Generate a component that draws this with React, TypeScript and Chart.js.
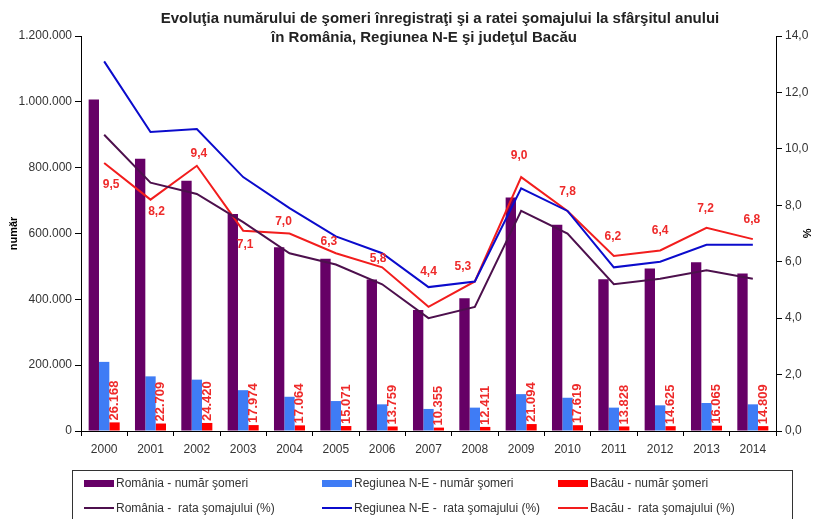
import React, { useEffect, useRef } from 'react';
import { Chart, registerables } from 'chart.js';

Chart.register(...registerables);

const years = ['2000', '2001', '2002', '2003', '2004', '2005', '2006', '2007', '2008', '2009', '2010', '2011', '2012', '2013', '2014'];
const romaniaCount = [1007131, 826932, 760610, 658891, 557891, 522973, 460495, 367838, 403441, 709383, 626960, 461013, 493775, 512333, 478338];
const neCount = [210000, 166000, 156000, 124000, 104000, 91000, 81000, 67000, 71000, 112000, 101000, 71000, 78000, 85000, 81000];
const bacauCount = [26168, 22709, 24420, 17974, 17064, 15071, 13759, 10355, 12411, 21094, 17619, 13828, 14625, 16065, 14809];
const romaniaRate = [10.5, 8.8, 8.4, 7.4, 6.3, 5.9, 5.2, 4.0, 4.4, 7.8, 7.0, 5.2, 5.4, 5.7, 5.4];
const neRate = [13.1, 10.6, 10.7, 9.0, 7.9, 6.9, 6.3, 5.1, 5.3, 8.6, 7.8, 5.8, 6.0, 6.6, 6.6];
const bacauRate = [9.5, 8.2, 9.4, 7.1, 7.0, 6.3, 5.8, 4.4, 5.3, 9.0, 7.8, 6.2, 6.4, 7.2, 6.8];
const leftTicks = [0, 200000, 400000, 600000, 800000, 1000000, 1200000];
const rightTicks = [0, 2, 4, 6, 8, 10, 12, 14];

// layout-only: placement of Bacău rate labels relative to their points
const rateLabelOffsets: [number, number][] = [
  [7, 22], [6, 12], [2, -12], [2, 14], [-6, -12], [-7, -12], [-4, -9], [0, -35],
  [-12, -15], [-2, -21], [0, -19], [-1, -19], [0, -20], [-1, -19], [-1, -19],
];

const titleLines = [
  'Evoluţia numărului de şomeri înregistraţi şi a ratei şomajului la sfârşitul anului',
  'în România, Regiunea N-E şi judeţul Bacău',
];

const COLORS = {
  roBar: '#660066',
  neBar: '#3f7cf5',
  bcBar: '#ff0000',
  roLine: '#4d104d',
  neLine: '#0b0bcc',
  bcLine: '#f21d1d',
  label: '#ee2a2a',
};

const fmtThousands = (v: number) => String(Math.round(v)).replace(/\B(?=(\d{3})+(?!\d))/g, '.');
const fmtRate = (v: number) => v.toFixed(1).replace('.', ',');

const legendItems = [
  { label: 'România - număr şomeri', color: COLORS.roBar, kind: 'bar' },
  { label: 'Regiunea N-E - număr şomeri', color: COLORS.neBar, kind: 'bar' },
  { label: 'Bacău - număr şomeri', color: COLORS.bcBar, kind: 'bar' },
  { label: 'România -  rata şomajului (%)', color: COLORS.roLine, kind: 'line' },
  { label: 'Regiunea N-E -  rata şomajului (%)', color: COLORS.neLine, kind: 'line' },
  { label: 'Bacău -  rata şomajului (%)', color: COLORS.bcLine, kind: 'line' },
];

const labelPlugin = {
  id: 'customLabels',
  afterDatasetsDraw(chart: any) {
    const ctx = chart.ctx;
    ctx.save();
    const barMeta = chart.getDatasetMeta(2);
    ctx.fillStyle = COLORS.label;
    ctx.font = 'bold 13px Arial, "Liberation Sans", sans-serif';
    barMeta.data.forEach((el: any, i: number) => {
      ctx.save();
      ctx.translate(el.x, el.y - 2);
      ctx.rotate(-Math.PI / 2);
      ctx.textAlign = 'left';
      ctx.textBaseline = 'middle';
      ctx.fillText(fmtThousands(bacauCount[i]), 0, 0);
      ctx.restore();
    });
    const lineMeta = chart.getDatasetMeta(5);
    ctx.font = 'bold 12px Arial, "Liberation Sans", sans-serif';
    ctx.textAlign = 'center';
    ctx.textBaseline = 'middle';
    lineMeta.data.forEach((el: any, i: number) => {
      const [dx, dy] = rateLabelOffsets[i];
      ctx.fillText(fmtRate(bacauRate[i]), el.x + dx, el.y + dy);
    });
    ctx.restore();
  },
  afterDraw(chart: any) {
    const ctx = chart.ctx;
    ctx.save();
    ctx.fillStyle = '#222';
    ctx.font = 'bold 15px Arial, "Liberation Sans", sans-serif';
    ctx.textAlign = 'center';
    ctx.textBaseline = 'alphabetic';
    ctx.fillText(titleLines[0], 440, 23);
    ctx.fillText(titleLines[1], 424, 42);
    ctx.restore();
  },
};

export default function App() {
  const ref = useRef<HTMLCanvasElement>(null);

  useEffect(() => {
    if (!ref.current) return;
    const tickFont = { family: 'Arial, "Liberation Sans", sans-serif', size: 12 };
    const chart = new Chart(ref.current, {
      type: 'bar',
      data: {
        labels: years,
        datasets: [
          { type: 'bar', label: 'România - număr şomeri', data: romaniaCount, backgroundColor: COLORS.roBar, yAxisID: 'y', order: 2 },
          { type: 'bar', label: 'Regiunea N-E - număr şomeri', data: neCount, backgroundColor: COLORS.neBar, yAxisID: 'y', order: 2 },
          { type: 'bar', label: 'Bacău - număr şomeri', data: bacauCount, backgroundColor: COLORS.bcBar, yAxisID: 'y', order: 2 },
          { type: 'line', label: 'România - rata şomajului (%)', data: romaniaRate, borderColor: COLORS.roLine, borderWidth: 2, pointRadius: 0, yAxisID: 'y1', order: 1 },
          { type: 'line', label: 'Regiunea N-E - rata şomajului (%)', data: neRate, borderColor: COLORS.neLine, borderWidth: 2, pointRadius: 0, yAxisID: 'y1', order: 1 },
          { type: 'line', label: 'Bacău - rata şomajului (%)', data: bacauRate, borderColor: COLORS.bcLine, borderWidth: 2, pointRadius: 0, yAxisID: 'y1', order: 1 },
        ] as any,
      },
      options: {
        responsive: false,
        animation: false,
        layout: { padding: { top: 36, left: 0, right: 0, bottom: 0 } },
        datasets: { bar: { categoryPercentage: 0.67, barPercentage: 1.0 } } as any,
        plugins: {
          legend: { display: false },
          title: { display: false },
          tooltip: { enabled: false },
        },
        scales: {
          x: {
            offset: true,
            grid: { offset: true, drawOnChartArea: false, tickLength: 5, color: '#000' },
            border: { color: '#000', width: 1 },
            ticks: { color: '#333', font: tickFont, padding: 6, maxRotation: 0 },
            afterFit: (s: any) => { s.height = 519 - 431; },
          },
          y: {
            position: 'left',
            min: 0,
            max: 1200000,
            afterBuildTicks: (s: any) => { s.ticks = leftTicks.map((v) => ({ value: v })); },
            grid: { drawOnChartArea: false, tickLength: 6, color: '#000' },
            border: { color: '#000', width: 1 },
            ticks: { color: '#333', font: tickFont, padding: 3, callback: (v: any) => fmtThousands(Number(v)) },
            title: { display: true, text: 'număr', color: '#000', font: { family: 'Arial, "Liberation Sans", sans-serif', size: 11, weight: 'bold' }, padding: { top: 7, bottom: 0 } },
            afterFit: (s: any) => { s.width = 81; },
          },
          y1: {
            position: 'right',
            min: 0,
            max: 14,
            afterBuildTicks: (s: any) => { s.ticks = rightTicks.map((v) => ({ value: v })); },
            grid: { drawOnChartArea: false, tickLength: 6, color: '#000' },
            border: { color: '#000', width: 1 },
            ticks: { color: '#333', font: tickFont, padding: 3, callback: (v: any) => fmtRate(Number(v)) },
            title: { display: true, text: '%', color: '#000', font: { family: 'Arial, "Liberation Sans", sans-serif', size: 11, weight: 'bold' }, padding: { top: 0, bottom: 0 } },
            afterFit: (s: any) => { s.width = 37; },
          },
        } as any,
      },
      plugins: [labelPlugin],
    });
    return () => chart.destroy();
  }, []);

  const colX = [84, 322, 558];
  const rowY = [483, 508];

  return (
    <div style={{ position: 'absolute', left: 0, top: 0, width: 813, height: 519, overflow: 'hidden', background: '#fff' }}>
      <canvas ref={ref} width={813} height={519} style={{ position: 'absolute', left: 0, top: 0, width: 813, height: 519 }} />
      <div style={{ position: 'absolute', left: 72, top: 470, width: 721, height: 49, borderTop: '1px solid #333', borderLeft: '1px solid #333', borderRight: '1px solid #333', boxSizing: 'border-box' }} />
      {legendItems.map((it, i) => {
        const x = colX[i % 3];
        const y = rowY[Math.floor(i / 3)];
        return (
          <div key={i} style={{ position: 'absolute', left: x, top: y - 8, height: 16, display: 'flex', alignItems: 'center', fontFamily: 'Arial, "Liberation Sans", sans-serif', fontSize: 12, color: '#333', whiteSpace: 'pre' }}>
            <span style={{ display: 'inline-block', width: 30, height: it.kind === 'bar' ? 7 : 2, background: it.color, marginRight: 2 }} />
            <span>{it.label}</span>
          </div>
        );
      })}
    </div>
  );
}
